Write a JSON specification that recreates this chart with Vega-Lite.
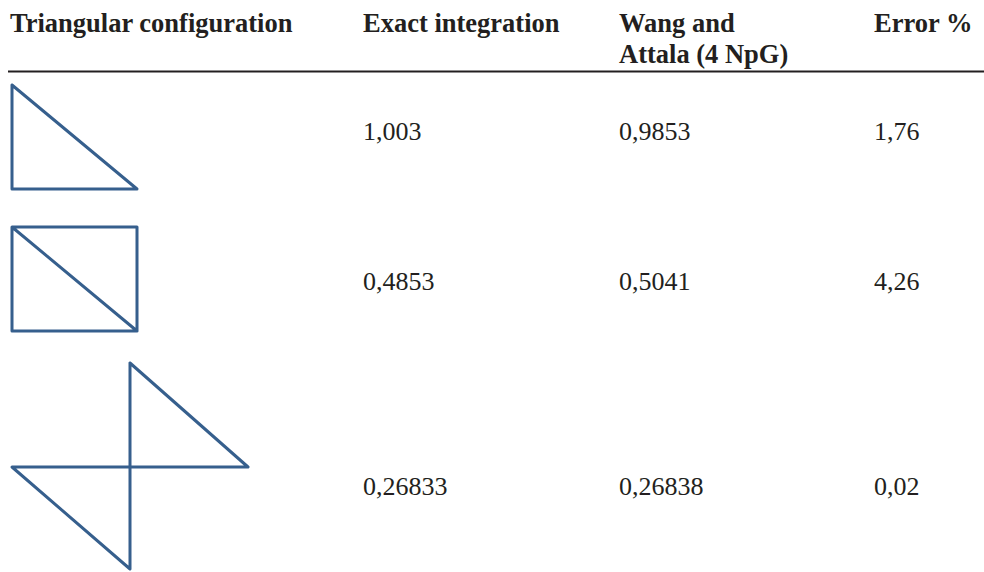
{
  "$schema": "https://vega.github.io/schema/vega-lite/v6.json",
  "width": 984,
  "height": 572,
  "padding": 0,
  "autosize": {"type": "none"},
  "background": "white",
  "config": {"view": {"stroke": null}},
  "datasets": {
    "cells": [
      {"row": 0, "col": 0, "text": "Triangular configuration", "bold": true},
      {"row": 0, "col": 1, "text": "Exact integration", "bold": true},
      {"row": 0, "col": 2, "text": "Wang and\nAttala (4 NpG)", "bold": true},
      {"row": 0, "col": 3, "text": "Error %", "bold": true},
      {"row": 1, "col": 1, "text": "1,003", "bold": false},
      {"row": 1, "col": 2, "text": "0,9853", "bold": false},
      {"row": 1, "col": 3, "text": "1,76", "bold": false},
      {"row": 2, "col": 1, "text": "0,4853", "bold": false},
      {"row": 2, "col": 2, "text": "0,5041", "bold": false},
      {"row": 2, "col": 3, "text": "4,26", "bold": false},
      {"row": 3, "col": 1, "text": "0,26833", "bold": false},
      {"row": 3, "col": 2, "text": "0,26838", "bold": false},
      {"row": 3, "col": 3, "text": "0,02", "bold": false}
    ],
    "shapes": [
      {"shape": "s1", "k": 0, "px": 12, "py": 85},
      {"shape": "s1", "k": 1, "px": 12, "py": 189},
      {"shape": "s1", "k": 2, "px": 137, "py": 189},
      {"shape": "s1", "k": 3, "px": 12, "py": 85},
      {"shape": "s2", "k": 0, "px": 12, "py": 227},
      {"shape": "s2", "k": 1, "px": 137, "py": 227},
      {"shape": "s2", "k": 2, "px": 137, "py": 331},
      {"shape": "s2", "k": 3, "px": 12, "py": 331},
      {"shape": "s2", "k": 4, "px": 12, "py": 227},
      {"shape": "s2", "k": 5, "px": 137, "py": 331},
      {"shape": "s3", "k": 0, "px": 130, "py": 363},
      {"shape": "s3", "k": 1, "px": 248, "py": 467},
      {"shape": "s3", "k": 2, "px": 12, "py": 467},
      {"shape": "s3", "k": 3, "px": 130, "py": 569},
      {"shape": "s3", "k": 4, "px": 130, "py": 363}
    ],
    "rules": [
      {"x1": 8, "x2": 984, "y": 71.5}
    ]
  },
  "layer": [
    {
      "data": {"name": "rules"},
      "mark": {"type": "rule", "stroke": "#231f20", "strokeWidth": 1.8},
      "encoding": {
        "x": {"field": "x1", "type": "quantitative", "scale": {"domain": [0, 984], "range": [0, 984], "nice": false, "zero": false}, "axis": null},
        "x2": {"field": "x2"},
        "y": {"field": "y", "type": "quantitative", "scale": {"domain": [0, 572], "range": [0, 572], "nice": false, "zero": false}, "axis": null}
      }
    },
    {
      "data": {"name": "shapes"},
      "mark": {"type": "line", "stroke": "#365f8d", "strokeWidth": 3, "strokeCap": "round", "strokeJoin": "round"},
      "encoding": {
        "x": {"field": "px", "type": "quantitative", "scale": {"domain": [0, 984], "range": [0, 984], "nice": false, "zero": false}, "axis": null},
        "y": {"field": "py", "type": "quantitative", "scale": {"domain": [0, 572], "range": [0, 572], "nice": false, "zero": false}, "axis": null},
        "detail": {"field": "shape"},
        "order": {"field": "k", "type": "quantitative"}
      }
    },
    {
      "data": {"name": "cells"},
      "transform": [{"filter": "datum.bold"}],
      "mark": {"type": "text", "align": "left", "baseline": "alphabetic", "font": "Liberation Serif", "fontWeight": "bold", "fontSize": 26.5, "fill": "#231f20", "lineBreak": "\n", "lineHeight": 31},
      "encoding": {
        "x": {"field": "col", "type": "quantitative", "scale": {"type": "linear", "domain": [0, 1, 2, 3], "range": [10, 363, 619, 874], "nice": false, "zero": false}, "axis": null},
        "y": {"field": "row", "type": "quantitative", "scale": {"type": "linear", "domain": [0, 1, 2, 3], "range": [31.5, 140, 290, 495], "nice": false, "zero": false}, "axis": null},
        "text": {"field": "text"}
      }
    },
    {
      "data": {"name": "cells"},
      "transform": [{"filter": "!datum.bold"}],
      "mark": {"type": "text", "align": "left", "baseline": "alphabetic", "font": "Liberation Serif", "fontSize": 26, "fill": "#231f20"},
      "encoding": {
        "x": {"field": "col", "type": "quantitative", "scale": {"type": "linear", "domain": [0, 1, 2, 3], "range": [10, 363, 619, 874], "nice": false, "zero": false}, "axis": null},
        "y": {"field": "row", "type": "quantitative", "scale": {"type": "linear", "domain": [0, 1, 2, 3], "range": [31.5, 140, 290, 495], "nice": false, "zero": false}, "axis": null},
        "text": {"field": "text"}
      }
    }
  ],
  "resolve": {"scale": {"x": "independent", "y": "independent"}}
}
